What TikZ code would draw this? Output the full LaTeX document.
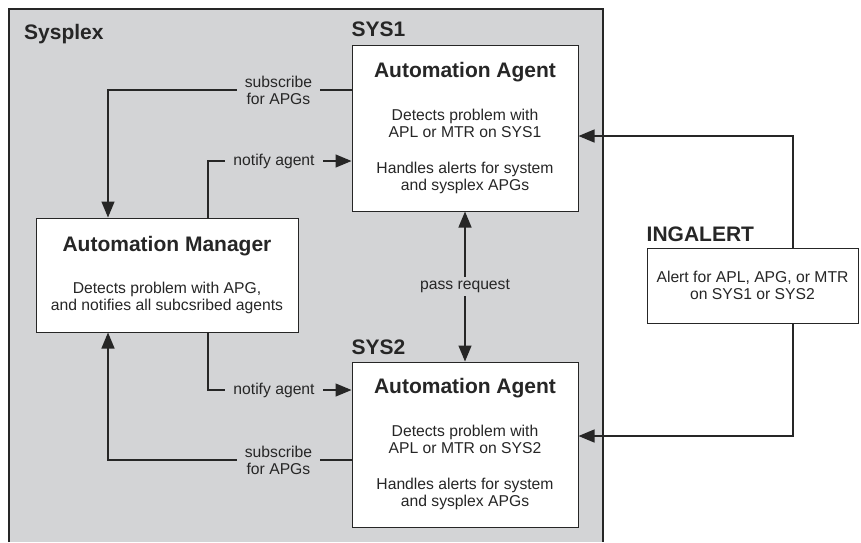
\documentclass[tikz,border=0pt]{standalone}
\usepackage{fontspec}
\setmainfont{Liberation Sans}
\usetikzlibrary{arrows.meta,positioning}

\definecolor{sysgray}{RGB}{211,212,214}
\definecolor{ink}{RGB}{38,38,38}
\newcommand{\titlefont}{\fontsize{21}{24}\selectfont\bfseries}

\begin{document}
\begin{tikzpicture}[x=1pt,y=-1pt,
    >={Triangle[length=16pt,width=13pt]},
    box/.style={draw=ink,line width=1pt,fill=white,align=center,inner sep=0pt,text=ink,
        font=\fontsize{15.7}{17}\selectfont},
    lbl/.style={fill=sysgray,align=center,inner xsep=8pt,inner ysep=3pt,text=ink,
        font=\fontsize{15.7}{17}\selectfont},
    hdr/.style={font=\titlefont,inner sep=0pt,anchor=base west,text=ink},
    arr/.style={->,line width=1.3pt,draw=ink}]

    \useasboundingbox (0,0) rectangle (861,542);

    % sysplex area, open at the bottom
    \fill[sysgray] (9,9) rectangle (603,542);
    \draw[ink,line width=1.3pt] (9,542)--(9,9)--(603,9)--(603,542);
    \node[hdr] (sysplex) at (24,39) {Sysplex};

    % boxes
    \node[box,minimum width=226pt,minimum height=166pt] (agent1) at (465,128)
        {{\titlefont Automation Agent}\\[26pt]
         Detects problem with\\APL or MTR on SYS1\\[19pt]
         Handles alerts for system\\and sysplex APGs};
    \node[box,minimum width=262pt,minimum height=114pt] (manager) at (167,275)
        {{\titlefont Automation Manager}\\[25pt]
         Detects problem with APG,\\and notifies all subcsribed agents};
    \node[box,minimum width=226pt,minimum height=165pt] (agent2) at (465,444.5)
        {{\titlefont Automation Agent}\\[26pt]
         Detects problem with\\APL or MTR on SYS2\\[19pt]
         Handles alerts for system\\and sysplex APGs};
    \node[box,minimum width=211pt,minimum height=75pt] (ingalert) at (752.5,285.5)
        {Alert for APL, APG, or MTR\\on SYS1 or SYS2};

    \node[hdr] (sys1) at ([yshift=8pt]agent1.north west) {SYS1};
    \node[hdr] (sys2) at ([yshift=7pt]agent2.north west) {SYS2};
    \node[hdr] (ing) at ([yshift=6pt]ingalert.north west) {INGALERT};

    % bends
    \coordinate (s1) at (108,90);
    \coordinate (n1) at (208,161);
    \coordinate (n2) at (208,390);
    \coordinate (s2) at (108,460);
    \coordinate (i1) at (793,136);
    \coordinate (i2) at (793,436);

    % connectors
    \draw[arr] (agent1.west |- s1)--node[lbl,pos=0.3] (sub1) {subscribe\\for APGs}(s1)--(s1 |- manager.north);
    \draw[arr] (n1 |- manager.north)--(n1)--node[lbl,pos=0.46] (not1) {notify agent}(n1 -| agent1.west);
    \draw[arr] (n2 |- manager.south)--(n2)--node[lbl,pos=0.46] (not2) {notify agent}(n2 -| agent2.west);
    \draw[arr] (agent2.west |- s2)--node[lbl,pos=0.3] (sub2) {subscribe\\for APGs}(s2)--(s2 |- manager.south);
    \draw[arr,<->] (agent1.south)--node[lbl] (pass) {pass request}(agent2.north);
    \draw[arr] (i1 |- ingalert.north)--(i1)--(i1 -| agent1.east);
    \draw[arr] (i2 |- ingalert.south)--(i2)--(i2 -| agent2.east);

\end{tikzpicture}
\end{document}
